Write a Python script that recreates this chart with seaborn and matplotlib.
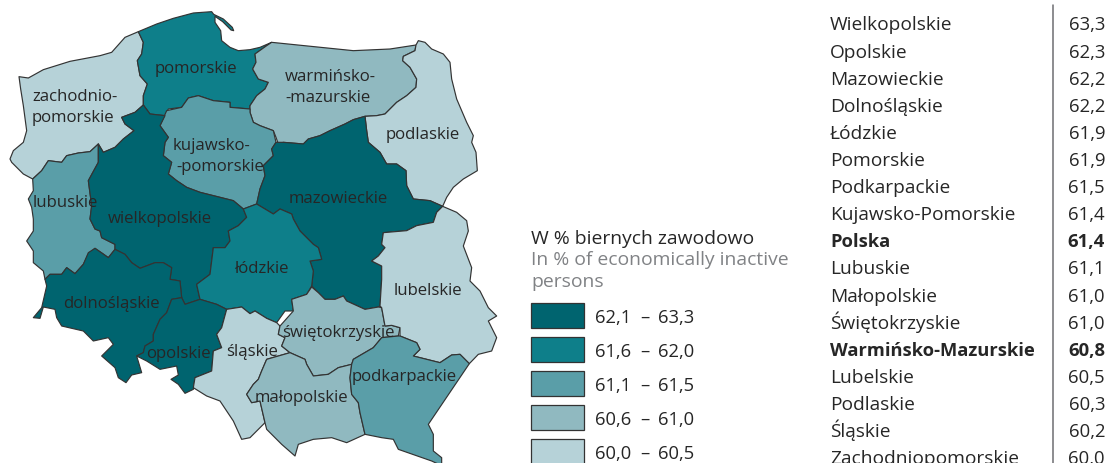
import numpy as np
import matplotlib
matplotlib.use("Agg")
import matplotlib.pyplot as plt
import seaborn as sns

# Table data
table_names = ["Wielkopolskie","Opolskie","Mazowieckie","Dolnośląskie","Łódzkie","Pomorskie","Podkarpackie",
               "Kujawsko-Pomorskie","Polska","Lubuskie","Małopolskie","Świętokrzyskie","Warmińsko-Mazurskie",
               "Lubelskie","Podlaskie","Śląskie","Zachodniopomorskie"]
table_values = [63.3,62.3,62.2,62.2,61.9,61.9,61.5,61.4,61.4,61.1,61.0,61.0,60.8,60.5,60.3,60.2,60.0]
bold_rows = ["Polska","Warmińsko-Mazurskie"]

# Legend classes, darkest first
class_low = [62.1,61.6,61.1,60.6,60.0]
class_high = [63.3,62.0,61.5,61.0,60.5]
class_colors = ["#00646F","#0E7F8A","#5A9EA8","#90B9C0","#B6D2D8"]

# Region outlines (3 units = 1 pixel)
zachodniopomorskie = [(57,233),(85,237),(130,212),(210,187),(300,170),(335,160),(375,115),(415,98),(430,130),(425,165),(412,185),(420,230),(442,255),(430,290),(430,318),(405,340),(365,355),(375,375),(402,395),(370,420),(345,445),(310,460),(295,435),(270,458),(235,462),(200,470),(185,490),(145,485),(125,515),(98,540),(70,525),(35,490),(30,480),(40,455),(70,430),(80,395),(70,320),(62,270)]
pomorskie = [(415,98),(470,75),(520,58),(580,42),(635,38),(641,46),(670,60),(697,85),(701,95),(693,93),(668,68),(645,52),(645,70),(662,95),(665,125),(690,145),(715,155),(750,152),(780,145),(815,130),(800,140),(765,165),(768,190),(758,210),(775,240),(805,250),(795,270),(770,290),(750,320),(750,330),(690,325),(690,310),(640,305),(595,290),(565,297),(545,325),(505,330),(495,350),(450,345),(430,318),(430,290),(442,255),(420,230),(412,185),(425,165),(430,130)]
warminsko_mazurskie = [(815,130),(1060,155),(1170,150),(1248,138),(1245,155),(1210,172),(1208,185),(1230,205),(1250,240),(1248,265),(1220,290),(1190,310),(1155,345),(1130,350),(1095,352),(1060,362),(1035,375),(990,395),(960,410),(925,420),(910,435),(875,432),(850,430),(835,435),(828,415),(820,395),(780,380),(760,370),(750,340),(750,320),(770,290),(795,270),(805,250),(775,240),(758,210),(768,190),(765,165),(800,140)]
podlaskie = [(1248,138),(1255,125),(1275,130),(1295,150),(1330,165),(1350,190),(1355,240),(1370,300),(1400,370),(1420,410),(1415,430),(1428,460),(1432,515),(1390,540),(1360,565),(1340,595),(1328,622),(1290,605),(1240,600),(1220,560),(1218,515),(1190,495),(1160,495),(1140,460),(1105,430),(1100,395),(1095,352),(1130,350),(1155,345),(1190,310),(1220,290),(1248,265),(1250,240),(1230,205),(1208,185),(1210,172),(1245,155)]
mazowieckie = [(1095,352),(1100,395),(1105,430),(1140,460),(1160,495),(1190,495),(1218,515),(1220,560),(1240,600),(1290,605),(1328,622),(1310,640),(1300,670),(1250,680),(1220,695),(1150,701),(1145,736),(1155,746),(1135,771),(1115,786),(1145,801),(1145,841),(1140,921),(1135,924),(1095,931),(1040,906),(1030,891),(1005,901),(975,901),(955,881),(940,866),(935,861),(940,816),(930,786),(965,781),(955,746),(940,736),(915,711),(900,696),(880,660),(875,645),(840,630),(820,645),(770,615),(780,570),(795,530),(790,500),(820,470),(815,450),(828,430),(850,430),(875,432),(910,435),(925,420),(960,410),(990,395),(1035,375),(1060,362)]
kujawsko_pomorskie = [(500,335),(545,325),(565,297),(595,290),(640,305),(690,310),(690,325),(750,330),(750,340),(760,370),(780,380),(820,395),(828,430),(815,450),(820,470),(790,500),(795,530),(780,570),(770,615),(730,630),(700,605),(640,590),(600,580),(560,565),(530,545),(505,525),(515,490),(490,470),(495,430),(505,415),(480,380)]
wielkopolskie = [(430,318),(450,345),(495,350),(480,380),(505,415),(495,430),(490,470),(515,490),(505,525),(530,545),(560,565),(600,580),(640,590),(700,605),(730,630),(740,655),(715,680),(685,696),(690,726),(675,746),(640,746),(630,826),(590,856),(600,901),(555,916),(545,896),(540,846),(510,841),(515,806),(490,791),(465,791),(420,808),(395,791),(375,766),(345,751),(345,736),(325,726),(305,716),(300,696),(285,690),(270,660),(275,620),(265,545),(295,490),(295,435),(310,460),(345,445),(370,420),(402,395),(375,375),(365,355),(405,340)]
lubuskie = [(98,540),(125,515),(145,485),(185,490),(200,470),(235,462),(270,458),(295,435),(295,490),(265,545),(275,620),(270,660),(285,690),(300,696),(305,716),(325,726),(345,736),(345,751),(325,776),(310,765),(285,748),(265,765),(250,796),(225,824),(200,806),(185,826),(150,826),(135,841),(130,816),(100,791),(100,756),(80,726),(100,696),(100,660),(95,625),(85,600),(100,575)]
dolnoslaskie = [(135,841),(150,826),(185,826),(200,806),(225,824),(250,796),(265,761),(285,748),(325,776),(345,751),(375,766),(395,791),(420,808),(465,791),(490,791),(515,806),(510,841),(540,846),(545,896),(515,901),(500,941),(480,961),(460,1006),(460,1026),(435,1041),(430,1061),(410,1071),(425,1121),(395,1128),(378,1151),(355,1136),(345,1106),(305,1071),(340,1036),(325,1016),(280,1026),(250,996),(185,981),(170,956),(165,931),(130,924),(120,958),(100,956),(125,926),(140,861)]
opolskie = [(515,901),(545,896),(555,916),(600,901),(650,916),(680,931),(665,986),(650,1006),(665,1046),(640,1056),(635,1116),(585,1136),(580,1171),(555,1183),(535,1156),(513,1141),(535,1128),(530,1101),(480,1111),(440,1086),(410,1071),(430,1061),(435,1041),(460,1026),(460,1006),(480,961),(500,941)]
lodzkie = [(640,746),(675,746),(690,726),(685,696),(715,680),(740,655),(730,630),(770,615),(820,645),(840,630),(875,645),(880,660),(900,696),(915,711),(940,736),(955,746),(965,781),(930,786),(940,816),(935,861),(920,886),(875,901),(880,936),(855,936),(830,971),(800,958),(765,936),(750,944),(725,924),(680,931),(650,916),(600,901),(590,856),(630,826)]
slaskie = [(680,931),(725,924),(750,944),(765,936),(800,958),(830,971),(840,981),(835,1006),(855,1016),(845,1041),(870,1061),(800,1081),(785,1116),(775,1141),(760,1156),(740,1186),(755,1211),(780,1206),(795,1271),(750,1316),(725,1321),(700,1266),(660,1206),(620,1191),(580,1166),(585,1136),(635,1116),(640,1056),(665,1046),(650,1006),(665,986)]
malopolskie = [(870,1061),(915,1081),(920,1096),(940,1131),(985,1126),(1015,1106),(1055,1096),(1050,1136),(1055,1186),(1075,1211),(1080,1241),(1095,1306),(1040,1331),(995,1316),(940,1321),(895,1336),(885,1371),(845,1336),(815,1306),(800,1291),(795,1271),(780,1206),(755,1211),(740,1186),(760,1156),(775,1141),(785,1116),(800,1081)]
swietokrzyskie = [(935,864),(955,881),(975,901),(1005,901),(1030,891),(1040,906),(1095,931),(1135,924),(1145,926),(1155,981),(1175,979),(1200,986),(1195,1011),(1145,1016),(1120,1046),(1060,1081),(1055,1096),(1015,1106),(985,1126),(940,1131),(920,1096),(915,1081),(870,1061),(845,1041),(855,1016),(835,1006),(840,981),(880,936),(875,901),(920,886)]
lubelskie = [(1328,622),(1370,640),(1400,665),(1405,696),(1390,741),(1415,806),(1410,846),(1440,876),(1465,926),(1490,951),(1465,966),(1490,1016),(1475,1056),(1435,1066),(1408,1094),(1380,1066),(1355,1068),(1320,1091),(1280,1081),(1240,1071),(1260,1051),(1250,1031),(1200,1011),(1200,986),(1175,979),(1155,981),(1145,926),(1140,921),(1145,841),(1145,801),(1115,786),(1135,771),(1155,746),(1145,736),(1150,701),(1220,695),(1250,680),(1300,670),(1310,640)]
podkarpackie = [(1055,1096),(1060,1081),(1120,1046),(1145,1016),(1195,1011),(1200,1011),(1250,1031),(1260,1051),(1240,1071),(1280,1081),(1320,1091),(1355,1068),(1380,1066),(1408,1094),(1285,1276),(1300,1306),(1300,1356),(1325,1376),(1325,1400),(1295,1386),(1195,1351),(1180,1321),(1145,1316),(1095,1306),(1080,1241),(1075,1211),(1055,1186),(1050,1136)]

regions = {"Zachodniopomorskie":zachodniopomorskie,"Pomorskie":pomorskie,"Warmińsko-Mazurskie":warminsko_mazurskie,
           "Podlaskie":podlaskie,"Kujawsko-Pomorskie":kujawsko_pomorskie,"Lubuskie":lubuskie,"Wielkopolskie":wielkopolskie,
           "Mazowieckie":mazowieckie,"Łódzkie":lodzkie,"Dolnośląskie":dolnoslaskie,"Opolskie":opolskie,"Śląskie":slaskie,
           "Świętokrzyskie":swietokrzyskie,"Małopolskie":malopolskie,"Lubelskie":lubelskie,"Podkarpackie":podkarpackie}

# Map labels: text, left x in pixels, baseline y in pixels
map_labels = [("zachodnio-",32,101),("pomorskie",32,122),("pomorskie",155,73),("warmińsko-",285,81),("-mazurskie",285,102),
              ("kujawsko-",173,150),("-pomorskie",176,171),("podlaskie",386,139),("mazowieckie",289,203),("lubuskie",33,207),
              ("wielkopolskie",108,223),("łódzkie",234,273),("lubelskie",394,295),("dolnośląskie",63,308),("opolskie",146,358),
              ("śląskie",226,356),("świętokrzyskie",282,337),("podkarpackie",352,381),("małopolskie",255,402)]

sns.set_theme(style="white")
FONT = "Open Sans"
plt.rcParams["font.family"] = [FONT, "DejaVu Sans"]
INK = "#262626"
GREY = "#808285"
palette = sns.color_palette(class_colors)
value_of = dict(zip(table_names, table_values))

def region_color(v):
    for lo, hi, c in zip(class_low, class_high, palette):
        if lo <= v <= hi:
            return c
    return palette[-1]

fig = plt.figure(figsize=(11.09, 4.64), dpi=100)
ax = fig.add_axes([0, 0, 1, 1])
ax.set_xlim(0, 1109 * 3)
ax.set_ylim(464 * 3, 0)
ax.axis("off")

for name, outline in regions.items():
    xs, ys = zip(*outline)
    ax.fill(xs, ys, facecolor=region_color(value_of[name]), edgecolor="#333333", linewidth=0.85, joinstyle="round", zorder=2)

for text, x, y in map_labels:
    ax.text(x * 3, y * 3, text, fontsize=12.1, color=INK, va="baseline", ha="left", zorder=3)

# legend
ax.text(531 * 3, 244 * 3, "W % biernych zawodowo", fontsize=13.9, color=INK, va="baseline")
ax.text(531 * 3, 265 * 3, "In % of economically inactive", fontsize=13.9, color=GREY, va="baseline")
ax.text(531 * 3, 287 * 3, "persons", fontsize=13.9, color=GREY, va="baseline")
for i, (lo, hi, c) in enumerate(zip(class_low, class_high, palette)):
    top = 304 + 34 * i
    ax.fill([531*3, 583.5*3, 583.5*3, 531*3], [top*3, top*3, (top+25)*3, (top+25)*3], facecolor=c, edgecolor="#333333", linewidth=0.9)
    base = top + 19
    ax.text(595 * 3, base * 3, f"{lo:.1f}".replace(".", ","), fontsize=13.2, color=INK, va="baseline")
    ax.text(645 * 3, base * 3, "–", fontsize=13.2, color=INK, va="baseline", ha="center")
    ax.text(658 * 3, base * 3, f"{hi:.1f}".replace(".", ","), fontsize=13.2, color=INK, va="baseline")

# table
ax.plot([1053 * 3, 1053 * 3], [6 * 3, 464 * 3], color="#6D6E71", lw=1.1)
for i, (name, v) in enumerate(zip(table_names, table_values)):
    y = 30.5 + 27.1 * i
    bold = name in bold_rows
    w = "bold" if bold else "normal"
    ax.text(830 * 3, y * 3, name, fontsize=13.2 if bold else 13.8, color=INK, va="baseline", fontweight=w)
    ax.text(1105 * 3, y * 3, f"{v:.1f}".replace(".", ","), fontsize=13.3, color=INK, va="baseline", ha="right", fontweight=w)

fig.savefig("out.png", dpi=100)
